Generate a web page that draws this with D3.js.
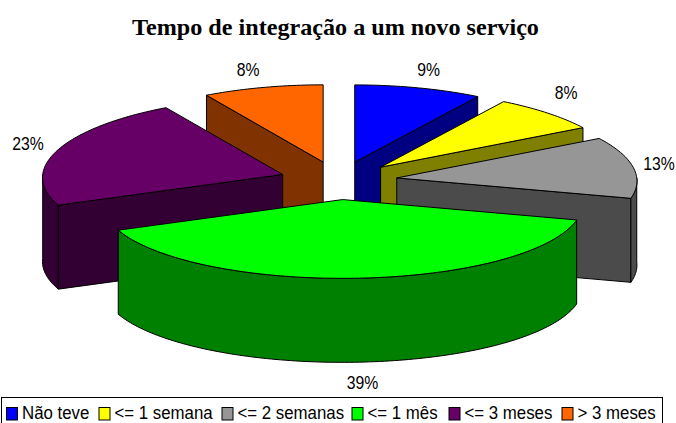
<!DOCTYPE html>
<html><head><meta charset="utf-8">
<script src="https://cdn.jsdelivr.net/npm/d3@7/dist/d3.min.js"></script>
<style>html,body{margin:0;padding:0;background:#fff}svg{display:block}text{font-family:"Liberation Sans",Arial,sans-serif;fill:#000}</style>
</head><body><svg id="c" width="676" height="423"></svg>
<script>
const titleText = "Tempo de integração a um novo serviço";
const categories = ["Não teve","<= 1 semana","<= 2 semanas","<= 1 mês","<= 3 meses","> 3 meses"];
const values = [8.9,7.6,12.7,39.4,23.0,8.4];
const topColors = ["#0000ff","#ffff00","#969696","#00ff00","#660066","#ff6600"];
const sideColors = ["#000080","#808000","#4b4b4b","#008000","#330033","#803300"];
// layout only: label nudges in px per slice
const labelNudge = [[3,0],[0,-7],[0,-2],[1,1],[-5,-1],[-8,1]];
const legendStarts = [6.5,99,222,352,449,562];

const cx=338.5, cy=180.5, rx=240, ry=78, depth=84, explode=0.245, persp=0.04;
const svg=d3.select("#c");
const squeezed=(sel,px,py,sx)=>sel.attr("transform",`translate(${px},${py}) scale(${sx},1)`);
squeezed(svg.append("text").attr("text-anchor","middle")
  .style("font-family",'"Liberation Serif","Times New Roman",serif').style("font-weight","bold").style("font-size","23px").text(titleText),335.5,35,1.05);

const arcs=d3.pie().sort(null).value(d=>d)(values).map((a,i)=>{
  const mid=(a.startAngle+a.endAngle)/2;
  return {i,value:a.value,a0:a.startAngle,a1:a.endAngle,mid,
    ax:cx+rx*explode*Math.sin(mid), ay:cy-ry*explode*Math.cos(mid)};
});
const rim=(s,t)=>{const u=Math.sin(t),v=Math.cos(t);
  return [s.ax+rx*u*(1-persp*v), s.ay-ry*v*(1-0.01*v)];};
const sample=(a,b)=>{const n=Math.max(2,Math.ceil((b-a)/0.02));return d3.range(n+1).map(k=>a+(b-a)*k/n);};
const line=d3.line();
const down=p=>[p[0],p[1]+depth];

const g=svg.append("g").attr("stroke","#000").attr("stroke-width",1).attr("stroke-linejoin","round");
arcs.slice().sort((p,q)=>d3.ascending(p.ay,q.ay)).forEach(s=>{
  const side=sideColors[s.i], apex=[s.ax,s.ay];
  const wall=t=>{const r=rim(s,t);
    g.append("path").attr("fill",side).attr("d",line([apex,r,down(r),down(apex)])+"Z");};
  if(Math.sin(s.a0)<-1e-6) wall(s.a0);
  if(Math.sin(s.a1)>1e-6) wall(s.a1);
  const f0=Math.max(s.a0,Math.PI/2), f1=Math.min(s.a1,Math.PI*1.5);
  if(f1>f0){
    const pts=sample(f0,f1).map(t=>rim(s,t));
    g.append("path").attr("fill",side).attr("d",line(pts.concat(pts.slice().reverse().map(down)))+"Z");
  }
  const pts=[apex].concat(sample(s.a0,s.a1).map(t=>rim(s,t)));
  g.append("path").attr("fill",topColors[s.i]).attr("d",line(pts)+"Z");
});

const fmt=d3.format(".0f");
arcs.forEach(s=>{
  const r=rim(s,s.mid), front=Math.cos(s.mid)<-0.5, n=labelNudge[s.i];
  squeezed(svg.append("text").attr("text-anchor","middle").style("font-size","19px").text(fmt(s.value)+"%"),
    r[0]+26*Math.sin(s.mid)+n[0], r[1]-20*Math.cos(s.mid)+7+(front?depth-1:0)+n[1], 0.83);
});

svg.append("rect").attr("x",1.5).attr("y",397.5).attr("width",661).attr("height",40).attr("fill","#fff").attr("stroke","#000");
const lg=svg.append("g");
categories.forEach((c,i)=>{
  const x=legendStarts[i];
  lg.append("rect").attr("x",x).attr("y",407.5).attr("width",11).attr("height",12.5).attr("fill",topColors[i]).attr("stroke","#000");
  squeezed(lg.append("text").style("font-size","18.5px").text(c),x+15.5,419,0.91);
});
</script></body></html>
